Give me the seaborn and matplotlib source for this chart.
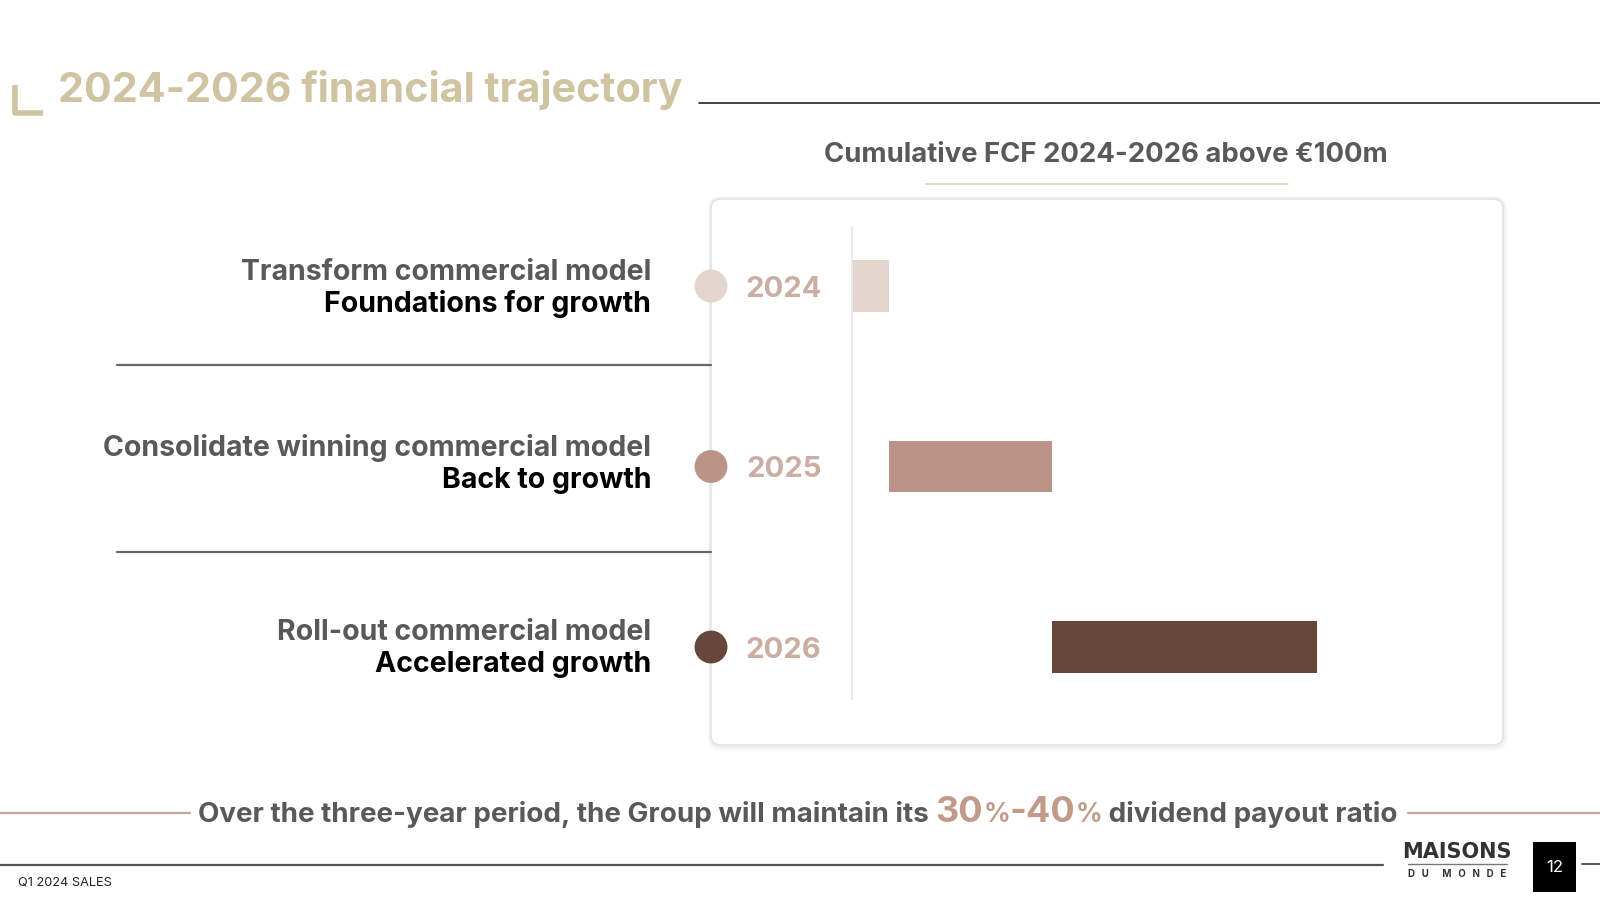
import matplotlib
matplotlib.use("Agg")
import matplotlib.pyplot as plt
import matplotlib.transforms as mtransforms
from matplotlib.patches import FancyBboxPatch, Rectangle
import seaborn as sns
import pandas as pd

# ---------------- data ----------------
years = ["2024", "2025", "2026"]
fcf_contrib = [8, 35, 57]          # contribution to cumulative FCF (EUR m, approx.)
fcf_start = [0, 8, 43]             # cumulative start of each year's contribution
bar_colors = ["#E4D5CF", "#BC9487", "#67473A"]
phase_titles = ["Transform commercial model", "Consolidate winning commercial model", "Roll-out commercial model"]
phase_subtitles = ["Foundations for growth", "Back to growth", "Accelerated growth"]
main_title = "2024-2026 financial trajectory"
chart_title = "Cumulative FCF 2024-2026 above \u20ac100m"
bottom_parts = ["Over the three-year period, the Group will maintain its ", "30", "%", "-40", "%",
                " dividend payout ratio"]
footer_left = "Q1 2024 SALES"
page_number = "12"

sns.set_theme(style="white")
plt.rcParams["font.family"] = ["Inter", "DejaVu Sans"]

W, H = 1600, 900
fig = plt.figure(figsize=(16, 9), dpi=100)
fig.patch.set_facecolor("white")

# background overlay axes in pixel coordinates
bg = fig.add_axes([0, 0, 1, 1], zorder=0)
bg.set_xlim(0, W)
bg.set_ylim(H, 0)
bg.axis("off")

TAN = "#CFC3A1"
GRAY = "#595959"
ROSE = "#C29A8A"
YEARC = "#CBAEA3"

# title + corner mark
bg.plot([15, 15, 43], [85, 113, 113], color=TAN, lw=4, solid_capstyle="butt")
bg.text(58, 90, main_title, fontsize=29.7, fontweight="bold", color=TAN, va="center", ha="left")
bg.plot([699, W], [102.5, 102.5], color="#222222", lw=1.2)

# chart subtitle and its underline
bg.text(1106, 155, chart_title, fontsize=19.8, fontweight="bold", color=GRAY, va="center", ha="center")
bg.plot([926, 1288], [184, 184], color="#DCD5C0", lw=1.2)

# card with soft shadow
for off, a in [(3, 0.025), (1.8, 0.04)]:
    bg.add_patch(FancyBboxPatch((711, 199), 792 + off * 0.4, 546 + off,
                                boxstyle="round,pad=0,rounding_size=10", fc="none",
                                ec=(0, 0, 0, a), lw=off * 1.5))
bg.add_patch(FancyBboxPatch((711, 199), 792, 546, boxstyle="round,pad=0,rounding_size=10",
                            fc="white", ec="#E2E2E2", lw=1.1))

# left phase texts and separators
text_y = [(272, 304), (448, 480), (632, 664)]
for (y1, y2), t1, t2 in zip(text_y, phase_titles, phase_subtitles):
    bg.text(651, y1, t1, fontsize=20.5, fontweight="bold", color=GRAY, ha="right", va="center")
    bg.text(651, y2, t2, fontsize=20.5, fontweight="bold", color="black", ha="right", va="center")
for ys in [365, 552]:
    bg.plot([117, 711], [ys, ys], color="#666666", lw=1.6)

# ---------------- chart axes ----------------
x0_px, x1_px, top_px, bot_px = 852, 1480, 227, 699
ax = fig.add_axes([x0_px / W, 1 - bot_px / H, (x1_px - x0_px) / W, (bot_px - top_px) / H], zorder=2)
ax.patch.set_alpha(0)
df = pd.DataFrame({"year": years, "fcf": fcf_contrib, "start": fcf_start})
sns.barplot(data=df, x="fcf", y="year", order=years, orient="y", errorbar=None,
            width=0.283, left=df["start"].to_numpy(), ax=ax, color="#999999", saturation=1)
for p, c in zip(ax.patches, bar_colors):
    p.set_facecolor(c)
    p.set_edgecolor("none")
ax.set_xlim(0, (x1_px - x0_px) / 4.65)
ax.set_ylim(2.288, -0.327)
ax.set_xlabel("")
ax.set_ylabel("")
ax.set_xticks([])
for s in ["top", "right", "bottom"]:
    ax.spines[s].set_visible(False)
ax.spines["left"].set_color("#EAEAEA")
ax.spines["left"].set_linewidth(1.4)
ax.tick_params(axis="y", length=0, pad=22)
for lab in ax.get_yticklabels():
    lab.set_fontsize(21)
    lab.set_fontweight("bold")
    lab.set_color(YEARC)

# timeline dots on the card border
trans = mtransforms.blended_transform_factory(bg.transData, ax.transData)
ax.scatter([711] * len(years), list(range(len(years))), s=560, c=bar_colors,
           transform=trans, clip_on=False, zorder=5, linewidths=0)

# ---------------- bottom message ----------------
fig.canvas.draw()
renderer = fig.canvas.get_renderer()
sizes = [20, 26, 19, 26, 19, 20]
cols = [GRAY, ROSE, ROSE, ROSE, ROSE, GRAY]
texts = []
for s, fs, c in zip(bottom_parts, sizes, cols):
    texts.append(bg.text(0, 0, s, fontsize=fs, fontweight="bold", color=c, ha="left",
                         va="baseline"))
widths = [tx.get_window_extent(renderer).width for tx in texts]
total = sum(widths)
cx = 798
xs = cx - total / 2
for tx, w in zip(texts, widths):
    tx.set_position((xs, 822))
    xs += w
bg.plot([0, cx - total / 2 - 8], [813, 813], color="#C8A598", lw=1.6)
bg.plot([cx + total / 2 + 10, W], [813, 813], color="#C8A598", lw=1.6)

# ---------------- footer ----------------
bg.plot([0, 1383], [865, 865], color="#555555", lw=1.6)
bg.text(18, 882, footer_left, fontsize=9.2, color="#222222", ha="left", va="center")
bg.text(1457, 852, "MAISONS", fontsize=15, fontweight="bold", color="#333333", ha="center",
        va="center", family=["Liberation Sans Narrow", "DejaVu Sans"])
bg.plot([1408, 1507], [864, 864], color="#777777", lw=1)
bg.text(1457, 874, "D   U      M   O   N   D   E", fontsize=7, fontweight="bold",
        color="#333333", ha="center", va="center")
bg.add_patch(Rectangle((1533, 842), 43, 50, fc="black", ec="none"))
bg.text(1554.5, 867, page_number, fontsize=12, color="white", ha="center", va="center")
bg.plot([1582, W], [864, 864], color="#555555", lw=1.4)

fig.savefig("out.png", dpi=100, facecolor="white")
